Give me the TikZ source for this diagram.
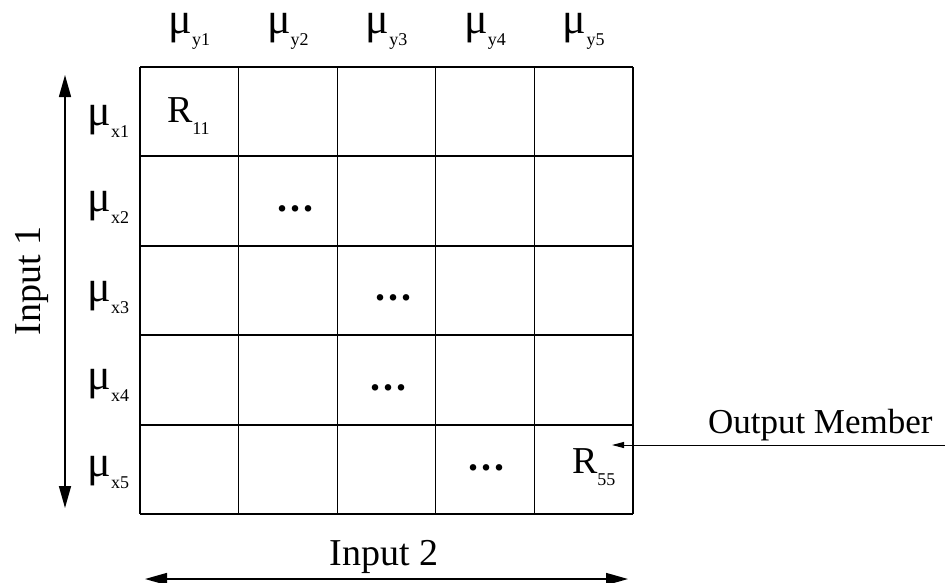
\documentclass[tikz,border=0pt]{standalone}
\usepackage{fontspec}
\setmainfont{Liberation Serif}
\usetikzlibrary{arrows.meta}
\newcommand{\mulab}[1]{{\fontsize{44}{46}\selectfont μ}\raisebox{-12pt}{\fontsize{18}{20}\selectfont #1}}
\newcommand{\rlab}[1]{{\fontsize{38}{40}\selectfont R}\raisebox{-12pt}{\fontsize{18}{20}\selectfont #1}}
\newcommand{\celldots}{\bfseries .\hspace{3pt}.\hspace{3pt}.}
\begin{document}
\begin{tikzpicture}[x=1pt,y=-1pt,
  lab/.style={inner sep=0pt, outer sep=0pt},
  hline/.style={line width=1.9pt, black},
  vline/.style={line width=1.3pt, black},
  dotsnode/.style={lab, anchor=base, font=\fontsize{40}{42}\selectfont},
  bigtext/.style={lab, font=\fontsize{38}{40}\selectfont},
  axisarrow/.style={line width=1.5pt, {Triangle[length=22pt,width=12pt]}-{Triangle[length=22pt,width=12pt]}},
  outarrow/.style={line width=1pt, -{Triangle[length=12pt,width=6pt]}}]
\useasboundingbox (0,0) rectangle (945,582);
% grid
\foreach \i in {0,...,5} {
  \draw[vline] ({140+98.6*\i},67) -- ({140+98.6*\i},514);
  \draw[hline] (140,{67+89.4*\i}) -- (633,{67+89.4*\i});
}
% column labels
\foreach \i in {1,...,5} {
  \node[lab, anchor=base] (my\i) at ({140+98.6*(\i-0.5)},33) {\mulab{y\i}};
}
% row labels
\node[lab, anchor=base east] (mx1) at (129,125) {\mulab{x1}};
\node[lab, anchor=base east] (mx2) at (129,211) {\mulab{x2}};
\node[lab, anchor=base east] (mx3) at (129,301) {\mulab{x3}};
\node[lab, anchor=base east] (mx4) at (129,389) {\mulab{x4}};
\node[lab, anchor=base east] (mx5) at (129,476) {\mulab{x5}};
% cell entries
\node[lab, anchor=base west] (r11) at (167,122) {\rlab{11}};
\node[lab, anchor=base west] (r55) at (572,473) {\rlab{55}};
\node[dotsnode] (d2) at (295,211) {\celldots};
\node[dotsnode] (d3) at (393,300) {\celldots};
\node[dotsnode] (d4) at (388,390) {\celldots};
\node[dotsnode] (d5) at (486,470) {\celldots};
% axes
\coordinate (a1top) at (65,75);
\coordinate (a1bot) at (65,508);
\draw[axisarrow] (a1top) -- (a1bot);
\node[bigtext, rotate=90] (in1) at (32,281) {Input 1};
\coordinate (a2left) at (145,579);
\coordinate (a2right) at (628,579);
\draw[axisarrow] (a2left) -- (a2right);
\node[bigtext, anchor=base] (in2) at (384,565) {Input 2};
% output member
\node[lab, anchor=base west, font=\fontsize{35}{38}\selectfont] (om) at (708,433) {Output Member};
\coordinate (omstart) at (945,445);
\coordinate (omtip) at (612,445);
\draw[outarrow] (omstart) -- (omtip);
\end{tikzpicture}
\end{document}
